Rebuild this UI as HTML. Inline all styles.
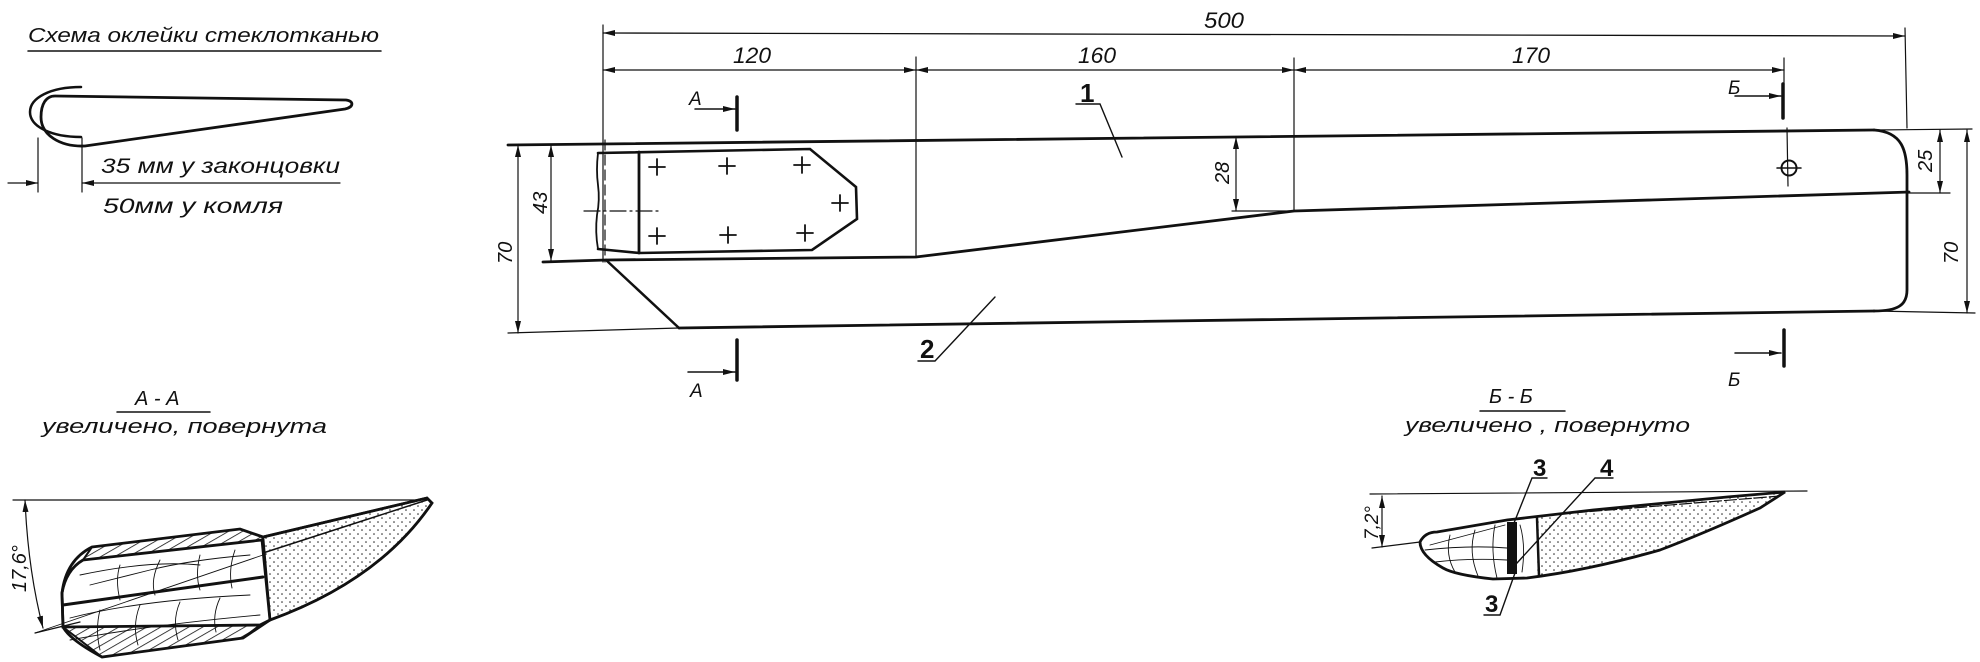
<!DOCTYPE html>
<html><head><meta charset="utf-8"><style>
html,body{margin:0;padding:0;background:#fff;}
svg{display:block;}
text{font-family:"Liberation Sans","DejaVu Sans",sans-serif;font-style:italic;fill:#111;}
.b{font-style:normal;font-weight:bold;font-family:"Liberation Sans Narrow","Liberation Sans",sans-serif;}
</style></head><body>
<svg width="1980" height="662" viewBox="0 0 1980 662" xmlns="http://www.w3.org/2000/svg">
<defs>
<marker id="ar" viewBox="0 0 12 6" refX="12" refY="3" markerWidth="12" markerHeight="6" orient="auto-start-reverse" markerUnits="userSpaceOnUse">
<path d="M0,0 L12,3 L0,6 Z" fill="#111"/></marker>
<pattern id="hat" width="7" height="7" patternUnits="userSpaceOnUse" patternTransform="rotate(60)">
<line x1="0" y1="0" x2="0" y2="7" stroke="#111" stroke-width="1.6"/></pattern>
<pattern id="dot" width="8" height="8" patternUnits="userSpaceOnUse">
<circle cx="2" cy="2" r="0.8" fill="#222"/><circle cx="6" cy="6" r="0.8" fill="#222"/></pattern>
</defs>
<g stroke="#111" fill="none" stroke-linecap="round">

<!-- top-left scheme -->
<text x="28" y="42" font-size="20" textLength="351" lengthAdjust="spacingAndGlyphs" stroke="none">Схема оклейки стеклотканью</text>
<line x1="28" y1="51" x2="381" y2="51" stroke-width="1.5"/>
<path d="M81,87 C50,87 30,98 30,112 C30,127 52,137 81,137" stroke-width="2.5"/>
<path d="M345,109 C354,107 354,101 346,100 L55,96 C46,96 41,104 41,117 C41,135 60,147 85,146 Z" stroke-width="2.8"/>
<line x1="38" y1="138" x2="38" y2="192" stroke-width="1.2"/>
<line x1="82" y1="138" x2="82" y2="192" stroke-width="1.2"/>
<line x1="8" y1="183" x2="38" y2="183" stroke-width="1.2" marker-end="url(#ar)"/>
<line x1="340" y1="183" x2="82" y2="183" stroke-width="1.2" marker-end="url(#ar)"/>
<text x="101" y="173" font-size="21" textLength="239" lengthAdjust="spacingAndGlyphs" stroke="none">35 мм у законцовки</text>
<text x="103" y="213" font-size="21" textLength="180" lengthAdjust="spacingAndGlyphs" stroke="none">50мм у комля</text>

<!-- main view dimensions -->
<line x1="603" y1="25" x2="603" y2="262" stroke-width="1.2"/>
<line x1="1905" y1="28" x2="1907" y2="128" stroke-width="1.2"/>
<line x1="916" y1="57" x2="916" y2="257" stroke-width="1.2"/>
<line x1="1294" y1="58" x2="1294" y2="211" stroke-width="1.2"/>
<line x1="1784" y1="58" x2="1784" y2="84" stroke-width="1.2"/>
<line x1="603" y1="33" x2="1905" y2="36" stroke-width="1.3" marker-start="url(#ar)" marker-end="url(#ar)"/>
<line x1="603" y1="70" x2="916" y2="70" stroke-width="1.3" marker-start="url(#ar)" marker-end="url(#ar)"/>
<line x1="916" y1="70" x2="1294" y2="70" stroke-width="1.3" marker-start="url(#ar)" marker-end="url(#ar)"/>
<line x1="1294" y1="70" x2="1784" y2="70" stroke-width="1.3" marker-start="url(#ar)" marker-end="url(#ar)"/>
<text x="1204" y="28" font-size="22" textLength="40" lengthAdjust="spacingAndGlyphs" stroke="none">500</text>
<text x="733" y="63" font-size="22" textLength="38" lengthAdjust="spacingAndGlyphs" stroke="none">120</text>
<text x="1078" y="63" font-size="22" textLength="38" lengthAdjust="spacingAndGlyphs" stroke="none">160</text>
<text x="1512" y="63" font-size="22" textLength="38" lengthAdjust="spacingAndGlyphs" stroke="none">170</text>

<!-- section markers -->
<text x="689" y="105" font-size="19" stroke="none">А</text>
<line x1="695" y1="109" x2="735" y2="109" stroke-width="1.5" marker-end="url(#ar)"/>
<line x1="737" y1="97" x2="737" y2="130" stroke-width="3.5"/>
<line x1="688" y1="372" x2="735" y2="372" stroke-width="1.5" marker-end="url(#ar)"/>
<line x1="737" y1="340" x2="737" y2="380" stroke-width="3.5"/>
<text x="690" y="397" font-size="19" stroke="none">А</text>
<text x="1728" y="94" font-size="19" stroke="none">Б</text>
<line x1="1735" y1="96" x2="1781" y2="96" stroke-width="1.5" marker-end="url(#ar)"/>
<line x1="1783" y1="84" x2="1783" y2="118" stroke-width="3.5"/>
<line x1="1735" y1="353" x2="1781" y2="353" stroke-width="1.5" marker-end="url(#ar)"/>
<line x1="1784" y1="330" x2="1784" y2="366" stroke-width="3.5"/>
<text x="1728" y="386" font-size="19" stroke="none">Б</text>

<!-- blade outline -->
<line x1="508" y1="145" x2="1874" y2="130" stroke-width="2.8"/>
<line x1="1874" y1="130" x2="1972" y2="129" stroke-width="1.2"/>
<path d="M1874,130 C1902,132 1907,150 1907,175 L1907,290 C1907,305 1898,311 1874,311" stroke-width="2.8"/>
<line x1="679" y1="328" x2="1874" y2="311" stroke-width="2.8"/>
<line x1="508" y1="333" x2="679" y2="328" stroke-width="1.2"/>
<line x1="1874" y1="311" x2="1975" y2="313" stroke-width="1.2"/>
<line x1="606" y1="260" x2="679" y2="328" stroke-width="2.5"/>
<path d="M543,262 L606,260 L916,257 L1294,211 L1909,192" stroke-width="2.8"/>

<!-- plate -->
<path d="M598,153 L810,149 L856,187 L857,219 L812,250 L639,253 L598,249" stroke-width="2.6"/>
<path d="M598,153 Q596,170 598,185 Q600,200 597,215 Q595,232 598,249" stroke-width="1.8"/>
<line x1="639" y1="152" x2="639" y2="253" stroke-width="2.8"/>
<line x1="605" y1="140" x2="605" y2="262" stroke-width="1.2" stroke-dasharray="10,5"/>
<line x1="584" y1="211" x2="659" y2="211" stroke-width="1.2" stroke-dasharray="16,4,2,4"/>
<g stroke-width="1.8">
<path d="M649,167h16M657,159v16"/><path d="M719,166h16M727,158v16"/><path d="M794,165h16M802,157v16"/>
<path d="M832,203h16M840,195v16"/><path d="M649,236h16M657,228v16"/><path d="M720,235h16M728,227v16"/><path d="M797,233h16M805,225v16"/>
</g>

<!-- left dims -->
<line x1="518" y1="145" x2="518" y2="333" stroke-width="1.2" marker-start="url(#ar)" marker-end="url(#ar)"/>
<line x1="551" y1="145" x2="551" y2="261" stroke-width="1.2" marker-start="url(#ar)" marker-end="url(#ar)"/>
<text transform="translate(512,264) rotate(-90)" font-size="20" stroke="none">70</text>
<text transform="translate(547,214) rotate(-90)" font-size="20" stroke="none">43</text>
<!-- 28 -->
<line x1="1236" y1="137" x2="1236" y2="211" stroke-width="1.2" marker-start="url(#ar)" marker-end="url(#ar)"/>
<line x1="1232" y1="211" x2="1294" y2="211" stroke-width="1.2"/>
<text transform="translate(1229,184) rotate(-90)" font-size="20" stroke="none">28</text>
<!-- 25 / 70 right -->
<line x1="1940" y1="130" x2="1940" y2="193" stroke-width="1.2" marker-start="url(#ar)" marker-end="url(#ar)"/>
<line x1="1907" y1="193" x2="1950" y2="193" stroke-width="1.2"/>
<text transform="translate(1932,172) rotate(-90)" font-size="20" stroke="none">25</text>
<line x1="1967" y1="130" x2="1967" y2="313" stroke-width="1.2" marker-start="url(#ar)" marker-end="url(#ar)"/>
<text transform="translate(1958,264) rotate(-90)" font-size="20" stroke="none">70</text>
<!-- hole -->
<line x1="1787" y1="128" x2="1788" y2="186" stroke-width="1.2"/>
<circle cx="1789" cy="168" r="7.5" stroke-width="2"/>
<line x1="1777" y1="168" x2="1801" y2="168" stroke-width="1.5"/>

<!-- leaders -->
<text class="b" x="1080" y="102" font-size="26" stroke="none">1</text>
<path d="M1076,104 L1100,104 L1122,157" stroke-width="1.4"/>
<text class="b" x="920" y="358" font-size="26" stroke="none">2</text>
<path d="M918,361 L935,361 L995,297" stroke-width="1.4"/>

<!-- Section A-A -->
<text x="135" y="405" font-size="20" stroke="none">А - А</text>
<line x1="117" y1="412" x2="210" y2="412" stroke-width="1.5"/>
<text x="42" y="433" font-size="20" textLength="285" lengthAdjust="spacingAndGlyphs" stroke="none">увеличено, повернута</text>
<line x1="13" y1="500" x2="420" y2="500" stroke-width="1.2"/>
<path d="M25,500 Q28,570 43,628" stroke-width="1.2" marker-start="url(#ar)" marker-end="url(#ar)"/>
<line x1="35" y1="633" x2="80" y2="622" stroke-width="1.2"/>
<text transform="translate(26,592) rotate(-90)" font-size="20" stroke="none">17,6°</text>
<path d="M263,537 L427,498 L432,503 Q380,580 270,620 Z" fill="url(#dot)" stroke-width="2.5"/>
<line x1="263" y1="553" x2="427" y2="500" stroke-width="1.5"/>
<path d="M92,547 L240,529 L263,537 L262,540 L83,560 Z" fill="url(#hat)" stroke-width="2"/>
<path d="M63,627 L260,625 L243,638 L102,657 Z" fill="url(#hat)" stroke-width="2"/>
<path d="M83,560 L262,540 L270,620 L260,625 L63,627 L62,593 Q66,570 83,560 Z" stroke-width="2.8"/>
<path d="M92,547 L240,529 L263,537 L427,498 L432,503 Q380,580 270,620 L243,638 L102,657 Q70,640 63,627 L62,593 Q66,560 92,547 Z" stroke-width="2.8"/>
<line x1="63" y1="605" x2="263" y2="577" stroke-width="3"/>
<g stroke-width="0.9">
<path d="M90,585 Q130,575 150,570 Q190,560 250,555"/><path d="M70,618 Q140,600 250,595"/><path d="M80,575 Q150,560 200,565"/>
<path d="M120,565 Q115,580 120,600"/><path d="M160,560 Q150,580 155,595"/><path d="M200,555 Q195,575 200,590"/><path d="M235,550 Q228,570 232,588"/>
<path d="M100,610 Q95,630 100,650"/><path d="M140,605 Q132,625 138,645"/><path d="M180,602 Q172,620 178,640"/><path d="M220,598 Q212,615 216,632"/>
<path d="M70,640 Q150,625 260,615"/><path d="M35,633 L263,555"/>
</g>

<!-- Section Б-Б -->
<text x="1489" y="403" font-size="20" stroke="none">Б - Б</text>
<line x1="1480" y1="411" x2="1565" y2="411" stroke-width="1.5"/>
<text x="1405" y="432" font-size="20" textLength="285" lengthAdjust="spacingAndGlyphs" stroke="none">увеличено , повернуто</text>
<line x1="1370" y1="494" x2="1807" y2="491" stroke-width="1.2"/>
<line x1="1382" y1="496" x2="1382" y2="547" stroke-width="1.2" marker-start="url(#ar)" marker-end="url(#ar)"/>
<line x1="1372" y1="548" x2="1420" y2="542" stroke-width="1.2"/>
<text transform="translate(1378,540) rotate(-90)" font-size="19" stroke="none">7,2°</text>
<path d="M1537,518 L1593,510 L1727,497 L1785,492 L1760,508 Q1700,535 1660,550 Q1590,570 1537,576 Z" fill="url(#dot)" stroke="none"/>
<path d="M1420,542 Q1425,532 1437,532 L1507,520 L1593,510 L1727,497 L1785,492 L1760,508 Q1700,535 1660,550 Q1590,570 1527,578 L1493,579 Q1455,575 1443,568 Q1420,555 1420,542 Z" stroke-width="2.8"/>
<line x1="1560" y1="514" x2="1780" y2="496" stroke-width="1.2" stroke-dasharray="12,3"/>
<rect x="1507" y="522" width="10" height="52" fill="#111" stroke="none"/>
<line x1="1537" y1="518" x2="1539" y2="576" stroke-width="2.5"/>
<g stroke-width="0.9">
<path d="M1425,550 Q1470,545 1507,548"/><path d="M1435,562 Q1470,558 1507,560"/><path d="M1450,535 Q1445,555 1455,572"/><path d="M1475,530 Q1468,552 1478,576"/><path d="M1495,525 Q1490,550 1497,578"/>
<path d="M1520,525 Q1526,545 1522,572"/><path d="M1430,545 L1505,525"/>
</g>
<text class="b" x="1533" y="476" font-size="24" stroke="none">3</text>
<path d="M1532,478 L1547,478 M1532,478 L1510,533" stroke-width="1.4"/>
<text class="b" x="1600" y="476" font-size="24" stroke="none">4</text>
<path d="M1595,478 L1613,478 M1595,478 L1517,563" stroke-width="1.4"/>
<text class="b" x="1485" y="612" font-size="24" stroke="none">3</text>
<path d="M1484,615 L1500,615 L1515,573" stroke-width="1.4"/>
</g>
</svg>
</body></html>
